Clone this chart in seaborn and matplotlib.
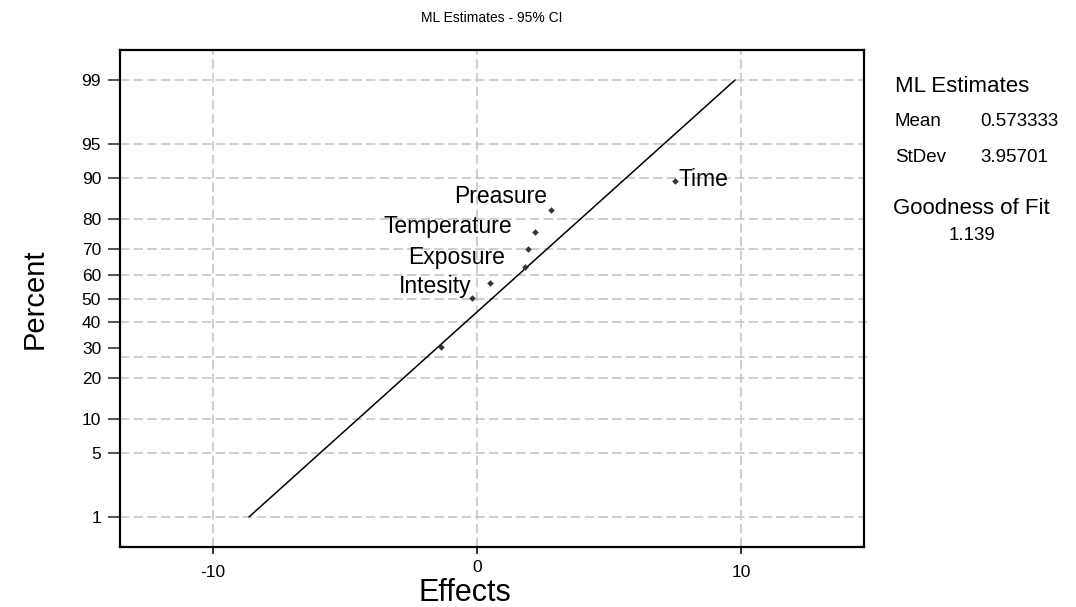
import numpy as np
import matplotlib
matplotlib.use("Agg")
import matplotlib.pyplot as plt
import seaborn as sns
import pandas as pd
from statistics import NormalDist

# Effect estimates and their plotting positions (percent)
effects = [-1.36, -0.20, 0.49, 1.82, 1.94, 2.20, 2.80, 7.51]
percent = [30.2, 50.3, 56.4, 63.3, 70.0, 76.2, 82.7, 89.5]
names = ["", "Intesity", "", "", "Exposure", "Temperature", "Preasure", "Time"]

# Maximum-likelihood fit of the normal distribution
ml_mean = 0.573333
ml_sd = 3.95701
goodness_of_fit = 1.139

# Probability axis ticks
pct_ticks = [1, 5, 10, 20, 30, 40, 50, 60, 70, 80, 90, 95, 99]
x_ticks = [-10, 0, 10]

nd = NormalDist()
_inv = np.vectorize(lambda p: nd.inv_cdf(min(max(p / 100.0, 1e-9), 1 - 1e-9)),
                    otypes=[float])
_cdf = np.vectorize(lambda z: nd.cdf(z) * 100.0, otypes=[float])


def prob_forward(p):
    return _inv(np.asarray(p, dtype=float))


def prob_inverse(z):
    return _cdf(np.asarray(z, dtype=float))


sns.set_style("white")
plt.rcParams["font.family"] = ["Liberation Sans", "DejaVu Sans"]
plt.rcParams["text.color"] = "black"
plt.rcParams["axes.labelcolor"] = "black"
plt.rcParams["xtick.color"] = "black"
plt.rcParams["ytick.color"] = "black"

fig = plt.figure(figsize=(10.76, 6.07), dpi=100)
ax = fig.add_axes([120 / 1076, 1 - 547 / 607, 744 / 1076, 497 / 607])
ax.set_yscale("function", functions=(prob_forward, prob_inverse))

# Fitted normal line from 1% to 99%
fit_pct = [1, 99]
fit_df = pd.DataFrame({
    "x": [ml_mean + ml_sd * nd.inv_cdf(p / 100) for p in fit_pct],
    "y": fit_pct,
})
sns.lineplot(data=fit_df, x="x", y="y", ax=ax, color="black", lw=1.1,
             sort=False, estimator=None, zorder=3)

pts = pd.DataFrame({"x": effects, "y": percent, "name": names})
sns.scatterplot(data=pts, x="x", y="y", ax=ax, marker="D", s=9,
                color="#333333", edgecolor="#333333", linewidth=0.3, zorder=4)

# Point labels (offsets in pixels)
label_offsets = {
    "Intesity": (0, 11, "right"),
    "Exposure": (-23, -8, "right"),
    "Temperature": (-23, 5, "right"),
    "Preasure": (-4, 13, "right"),
    "Time": (3, 1, "left"),
}
for x, y, n in zip(effects, percent, names):
    if not n:
        continue
    dx, dy, ha = label_offsets[n]
    ax.annotate(n, (x, y), xytext=(dx * 0.72, dy * 0.72), textcoords="offset points",
                ha=ha, va="center", fontsize=16.5, color="black", zorder=5)

zmax = 2.646
ax.set_ylim(float(prob_inverse(-zmax)), float(prob_inverse(zmax)))
ax.set_xlim(ml_mean - 14.09, ml_mean + 14.09)

# Grid
grid_kw = dict(color="#c6c6c6", lw=1.2, linestyle=(0, (5.6, 2.6)), zorder=1)
for p in pct_ticks:
    if p in (30, 40):
        continue
    ax.axhline(p, **grid_kw)
for p in (40, 26.8):
    ax.axhline(p, xmin=0, xmax=1.008, clip_on=False, **grid_kw)
for xv in x_ticks:
    ax.axvline(xv, **grid_kw)

ax.set_yticks(pct_ticks)
ax.set_yticklabels([str(p) for p in pct_ticks])
ax.yaxis.set_minor_locator(matplotlib.ticker.NullLocator())
ax.set_xticks(x_ticks)
ax.set_xticklabels([str(v) for v in x_ticks])

ax.tick_params(axis="y", which="major", direction="out", length=8.6, width=1.3,
               color="#444444", pad=5, labelsize=12.5, left=True)
ax.tick_params(axis="x", which="major", direction="out", length=5, width=1.3,
               color="#222222", pad=8, labelsize=12.5, bottom=True)
ax.xaxis.get_major_ticks()[1].set_pad(4)

for s in ax.spines.values():
    s.set_visible(True)
    s.set_color("black")
    s.set_linewidth(1.6)

ax.set_xlabel("Effects", fontsize=22)
ax.xaxis.set_label_coords((465 - 120) / 744, -0.063)
ax.set_ylabel("Percent", fontsize=21, labelpad=24)
ax.set_title("ML Estimates - 95% CI", fontsize=10, pad=20)

# Fit summary panel
def ftext(px, py, s, **kw):
    fig.text(px / 1076, 1 - py / 607, s, va="center", **kw)

ftext(895, 86, "ML Estimates", fontsize=16)
ftext(895, 121, "Mean", fontsize=13.5)
ftext(980, 121, f"{ml_mean:.6f}", fontsize=13.5)
ftext(895, 157, "StDev", fontsize=13.5)
ftext(980, 157, f"{ml_sd:.5f}", fontsize=13.5)
ftext(893, 208, "Goodness of Fit", fontsize=16)
ftext(972, 235, f"{goodness_of_fit:.3f}", fontsize=13.5, ha="center")

fig.savefig("out.png", dpi=100)
